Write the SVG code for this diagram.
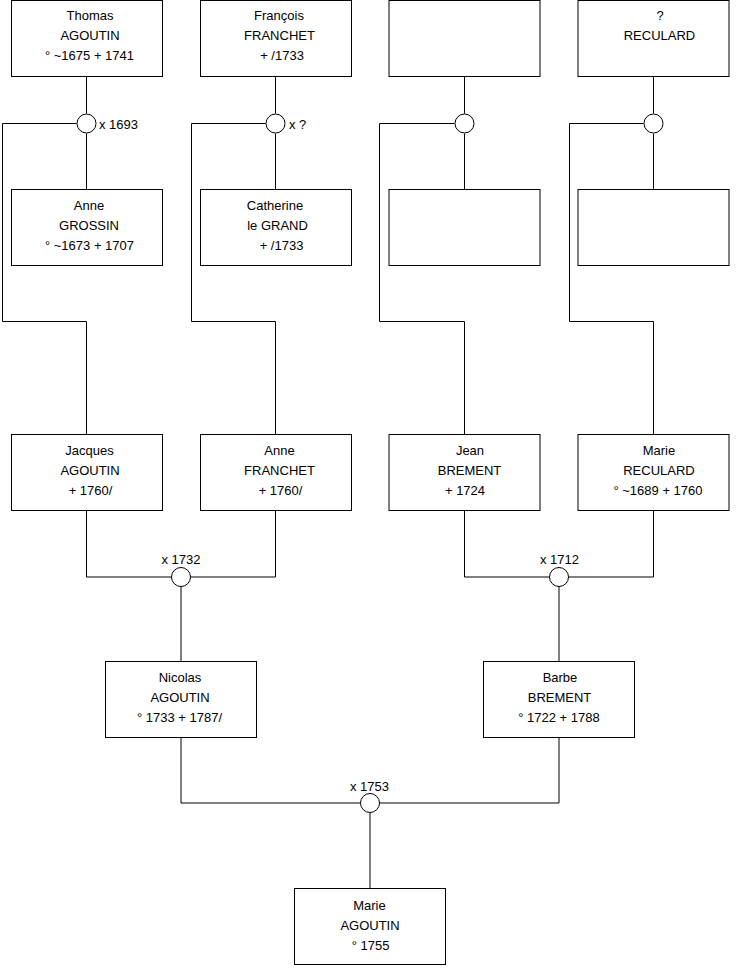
<svg xmlns="http://www.w3.org/2000/svg" width="740" height="975" viewBox="0 0 740 975">
<style>
.box{fill:#fff;stroke:#000;stroke-width:1}
.ln{fill:none;stroke:#000;stroke-width:1}
.ring{fill:#fff;stroke:#000;stroke-width:1}
text{font-family:"Liberation Sans",Arial,sans-serif;font-size:13px;fill:#000}
.c{text-anchor:middle}
</style>
<rect width="740" height="975" fill="#fff"/>
<g id="connectors">
<!-- column 1 -->
<path class="ln" d="M86.5 76.5V113.5M86.5 133.5V189.5M76.5 123.5H2.5V321.5H86.5V434.5"/>
<!-- column 2 -->
<path class="ln" d="M275.5 76.5V113.5M275.5 133.5V189.5M265.5 123.5H191.5V321.5H275.5V434.5"/>
<!-- column 3 -->
<path class="ln" d="M464.5 76.5V113.5M464.5 133.5V189.5M454.5 123.5H379.5V321.5H464.5V434.5"/>
<!-- column 4 -->
<path class="ln" d="M653.5 76.5V113.5M653.5 133.5V189.5M643.5 123.5H569.5V321.5H653.5V434.5"/>
<!-- row 3 marriages -->
<path class="ln" d="M86.5 510.5V577H171.5M190.5 577H275.5V510.5M181 586.5V661.5"/>
<path class="ln" d="M464.5 510.5V577H549.5M568.5 577H653.5V510.5M559 586.5V661.5"/>
<!-- row 4 marriage -->
<path class="ln" d="M181 737.5V803H360.5M379.5 803H559V737.5M370 812.5V888.5"/>
<circle class="ring" cx="86.5" cy="123.5" r="9.5"/>
<circle class="ring" cx="275.5" cy="123.5" r="9.5"/>
<circle class="ring" cx="464.5" cy="123.5" r="9.5"/>
<circle class="ring" cx="653.5" cy="123.5" r="9.5"/>
<circle class="ring" cx="181" cy="577" r="9.5"/>
<circle class="ring" cx="559" cy="577" r="9.5"/>
<circle class="ring" cx="370" cy="803" r="9.5"/>
<text x="99" y="128.5">x 1693</text>
<text x="289" y="128.5">x ?</text>
<text class="c" x="181" y="563.5">x 1732</text>
<text class="c" x="559.5" y="563.5">x 1712</text>
<text class="c" x="369.5" y="790.5">x 1753</text>
</g>
<g id="thomas-agoutin">
<rect class="box" x="11.5" y="0.5" width="151" height="76"/>
<text class="c" x="90" y="19.7">Thomas</text>
<text class="c" x="90" y="39.7">AGOUTIN</text>
<text class="c" x="89.5" y="59.7">° ~1675 + 1741</text>
</g>
<g id="francois-franchet">
<rect class="box" x="200.5" y="0.5" width="151" height="76"/>
<text class="c" x="279" y="19.7">François</text>
<text class="c" x="279.5" y="39.7">FRANCHET</text>
<text class="c" x="282" y="59.7">+ /1733</text>
</g>
<g id="unknown-1">
<rect class="box" x="389" y="0.5" width="151" height="76"/>
</g>
<g id="reculard">
<rect class="box" x="578" y="0.5" width="151" height="76"/>
<text class="c" x="660" y="19.7">?</text>
<text class="c" x="659.5" y="39.7">RECULARD</text>
</g>
<g id="anne-grossin">
<rect class="box" x="11.5" y="189.5" width="151" height="76"/>
<text class="c" x="89" y="209.7">Anne</text>
<text class="c" x="89" y="229.7">GROSSIN</text>
<text class="c" x="89.5" y="249.7">° ~1673 + 1707</text>
</g>
<g id="catherine-le-grand">
<rect class="box" x="200.5" y="189.5" width="151" height="76"/>
<text class="c" x="275" y="209.7">Catherine</text>
<text class="c" x="277.5" y="229.7">le GRAND</text>
<text class="c" x="281.5" y="249.7">+ /1733</text>
</g>
<g id="unknown-2">
<rect class="box" x="389" y="189.5" width="151" height="76"/>
</g>
<g id="unknown-3">
<rect class="box" x="578" y="189.5" width="151" height="76"/>
</g>
<g id="jacques-agoutin">
<rect class="box" x="11.5" y="434.5" width="151" height="76"/>
<text class="c" x="89.5" y="455">Jacques</text>
<text class="c" x="90" y="475">AGOUTIN</text>
<text class="c" x="90.5" y="495">+ 1760/</text>
</g>
<g id="anne-franchet">
<rect class="box" x="200.5" y="434.5" width="151" height="76"/>
<text class="c" x="279.5" y="455">Anne</text>
<text class="c" x="279.5" y="475">FRANCHET</text>
<text class="c" x="280.5" y="495">+ 1760/</text>
</g>
<g id="jean-brement">
<rect class="box" x="389" y="434.5" width="151" height="76"/>
<text class="c" x="470" y="455">Jean</text>
<text class="c" x="469.5" y="475">BREMENT</text>
<text class="c" x="465" y="495">+ 1724</text>
</g>
<g id="marie-reculard">
<rect class="box" x="578" y="434.5" width="151" height="76"/>
<text class="c" x="659" y="455">Marie</text>
<text class="c" x="659" y="475">RECULARD</text>
<text class="c" x="658" y="495">° ~1689 + 1760</text>
</g>
<g id="nicolas-agoutin">
<rect class="box" x="105.5" y="661.5" width="151" height="76"/>
<text class="c" x="180" y="682">Nicolas</text>
<text class="c" x="180" y="702">AGOUTIN</text>
<text class="c" x="179.5" y="722">° 1733 + 1787/</text>
</g>
<g id="barbe-brement">
<rect class="box" x="483.5" y="661.5" width="151" height="76"/>
<text class="c" x="560" y="682">Barbe</text>
<text class="c" x="559.5" y="702">BREMENT</text>
<text class="c" x="559" y="722">° 1722 + 1788</text>
</g>
<g id="marie-agoutin">
<rect class="box" x="294.5" y="888.5" width="151" height="76"/>
<text class="c" x="369.5" y="910">Marie</text>
<text class="c" x="370" y="930">AGOUTIN</text>
<text class="c" x="370.5" y="950">° 1755</text>
</g>
</svg>
